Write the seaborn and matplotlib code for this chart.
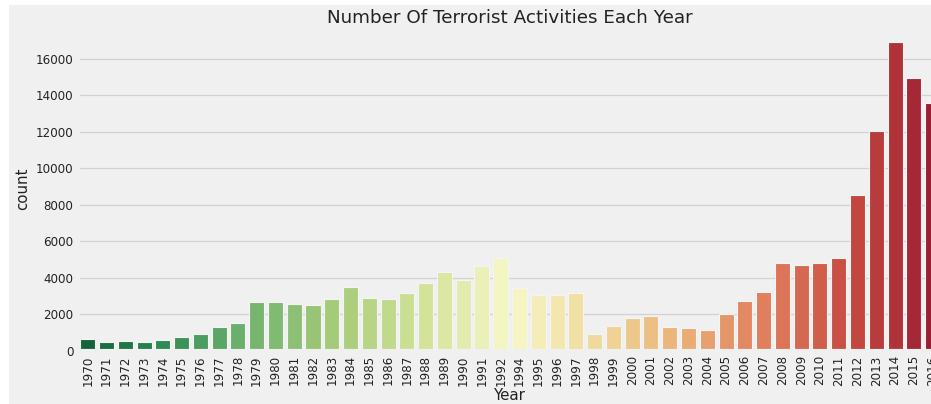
import matplotlib
matplotlib.use("Agg")
import matplotlib.pyplot as plt
import matplotlib.patches as mpatches
import seaborn as sns
import pandas as pd

years = [1970, 1971, 1972, 1973, 1974, 1975, 1976, 1977, 1978, 1979,
         1980, 1981, 1982, 1983, 1984, 1985, 1986, 1987, 1988, 1989,
         1990, 1991, 1992, 1994, 1995, 1996, 1997, 1998, 1999, 2000,
         2001, 2002, 2003, 2004, 2005, 2006, 2007, 2008, 2009, 2010,
         2011, 2012, 2013, 2014, 2015, 2016]
counts = [651, 471, 568, 473, 581, 740, 923, 1319, 1526, 2662,
          2662, 2586, 2544, 2870, 3495, 2915, 2860, 3183, 3721, 4324,
          3887, 4683, 5071, 3456, 3081, 3058, 3197, 934, 1395, 1814,
          1906, 1333, 1278, 1166, 2017, 2758, 3242, 4805, 4721, 4826,
          5076, 8522, 12036, 16903, 14965, 13587]

plt.style.use("fivethirtyeight")
df = pd.DataFrame({"Year": [str(y) for y in years], "count": counts})

fig = plt.figure(figsize=(9.31, 4.04), dpi=100)
fig.patch.set_facecolor("white")
# grey canvas with the thin white strips at top and left seen in the reference
fig.patches.append(mpatches.Rectangle((9 / 931, -0.05), 1.1, 1.05 - 5 / 404,
                                      transform=fig.transFigure,
                                      facecolor="#f0f0f0", edgecolor="none",
                                      zorder=-10))
ax = fig.add_axes([0.0841, 0.1312, 0.9277, 0.802])
sns.barplot(data=df, x="Year", y="count", hue="Year",
            palette="RdYlGn_r", legend=False, ax=ax, saturation=0.75,
            edgecolor="#f4f4f4", linewidth=0.8)
ax.set_title("Number Of Terrorist Activities Each Year", fontsize=13.2,
             color="#222222", pad=3)
ax.set_xlabel("Year", fontsize=10.8, labelpad=2, color="#222222")
ax.set_ylabel("count", fontsize=10.8, color="#222222")
ax.tick_params(axis="x", labelrotation=90, labelsize=8.6, pad=3,
               labelcolor="#222222")
ax.tick_params(axis="y", labelsize=8.6, labelcolor="#222222")
ax.xaxis.grid(False)
ax.yaxis.grid(True, color="#d2d2d2", linewidth=0.9)
fig.savefig("out.png", dpi=100, facecolor=fig.get_facecolor())
